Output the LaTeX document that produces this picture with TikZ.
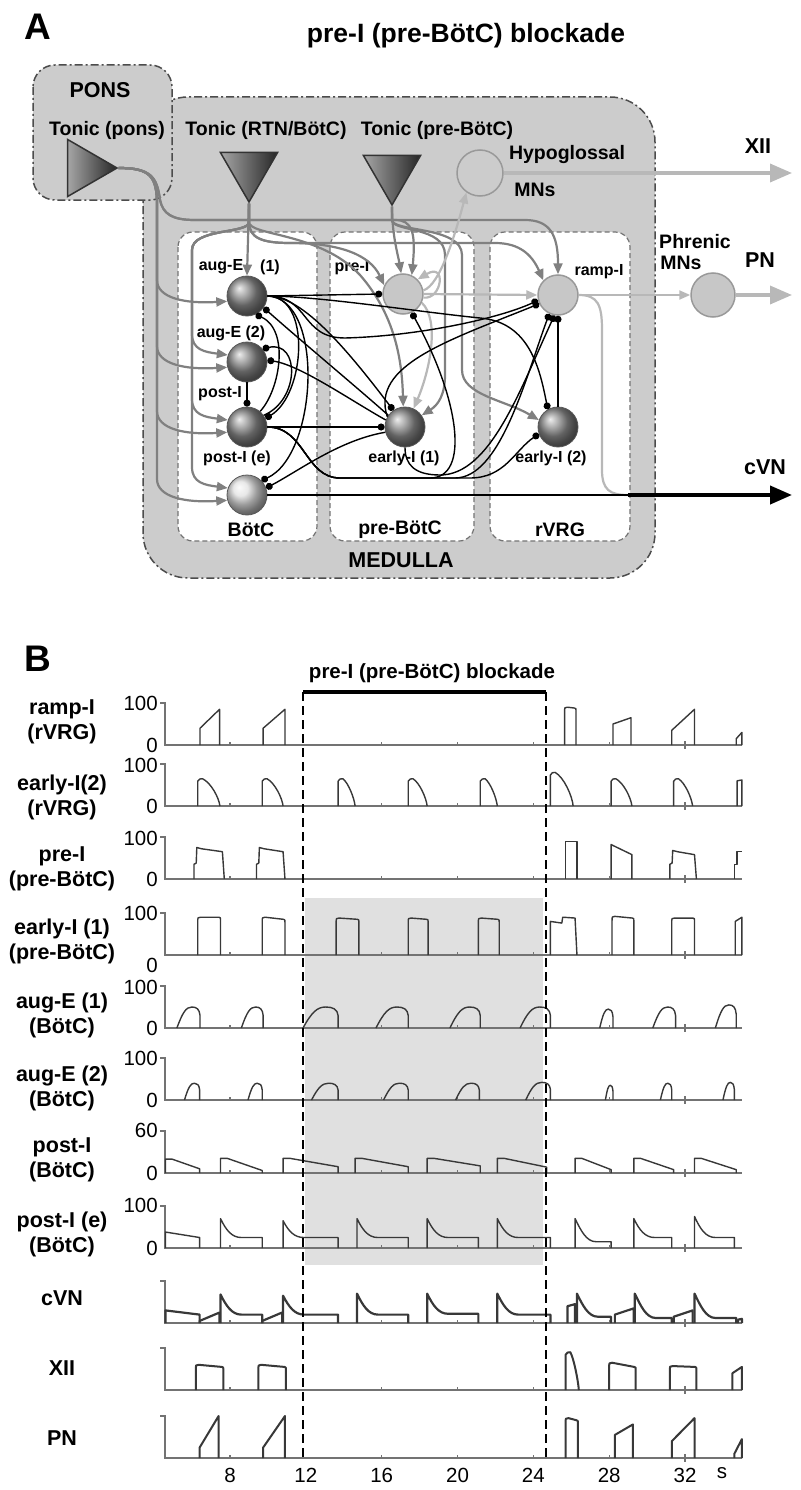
\documentclass[tikz,border=0pt]{standalone}
\usepackage{fontspec}
\setmainfont{Liberation Sans}
\usetikzlibrary{arrows.meta,shapes.geometric,positioning}

\tikzset{neuron/.style = {circle,draw=black!65,line width=0.8pt,shading=ball,ball color=black!45,minimum size=40pt,inner sep=0pt}}
\tikzset{flatcell/.style = {circle,draw=black!40,fill=black!22,line width=1.5pt,minimum size=40pt,inner sep=0pt}}
\tikzset{tonic/.style = {regular polygon,regular polygon sides=3,minimum size=66pt,inner sep=0pt,draw=black!80,line width=1.5pt,left color=black!35,right color=black!85}}
\tikzset{exc/.style = {draw=black!50,line width=2.2pt,-{Triangle[length=11pt,width=9pt]}}}
\tikzset{excl/.style = {draw=black!28,line width=2.2pt,-{Triangle[length=11pt,width=9pt]}}}
\tikzset{inh/.style = {draw=black,line width=1.4pt,-{Circle[length=7pt]}}}
\tikzset{sig/.style = {draw=black!78,line width=1.4pt,line join=round}}
\tikzset{axln/.style = {draw=black!55,line width=1.2pt}}
\tikzset{tracerow/.style = {shift={(78.3,#1)},xscale=18.96,yscale=-0.42}}

% burst shapes (time in s, height in % of top tick)
\newcommand{\rampb}[4]{\draw[sig] (#1,0) -- (#1,#3) -- (#2,#4) -- (#2,0);}
\newcommand{\decrb}[3]{\draw[sig] (#1,0) -- (#1,{#3-6}) .. controls ({#1+0.05},#3) and ({#1+0.15},#3) .. ({#1+0.25},#3) .. controls ({#1+0.6*(#2-#1)},{#3*0.85}) and ({#2-0.05},{#3*0.3}) .. (#2,0);}
\newcommand{\augb}[3]{\draw[sig] (#1,0) .. controls ({#1+0.25*(#2-#1)},{#3*0.75}) and ({#1+0.4*(#2-#1)},#3) .. ({#1+0.65*(#2-#1)},#3) .. controls ({#1+0.85*(#2-#1)},#3) and ({#2-0.03},{#3*0.9}) .. (#2,{#3*0.6}) -- (#2,0);}
\newcommand{\postb}[4]{\draw[sig] (#1,0) -- (#1,#3) -- ({#1+0.35},#3) -- (#2,#4) -- (#2,0);}
\newcommand{\posteb}[4]{\draw[sig] (#1,0) -- (#1,#3) .. controls ({#1+0.3},{#3*0.6}) and ({#1+0.6},#4) .. ({#1+1.1},#4) -- (#2,#4) -- (#2,0);}
\newcommand{\plateb}[4]{\draw[sig] (#1,0) -- (#1,{#3-12}) .. controls (#1,#3) .. ({#1+0.15},#3) -- ({#2-0.08},#4) .. controls (#2,#4) .. (#2,{#4-12}) -- (#2,0);}
\newcommand{\preb}[3]{\draw[sig] (#1,0) -- (#1,35) -- ({#1+0.12},38) -- ({#1+0.15},#3) -- ({#1+0.4},{#3-3}) -- ({#2-0.1},{#3-10}) -- (#2,0);}

\begin{document}
\begin{tikzpicture}[x=1pt,y=-1pt]

\tikzset{title/.style = {font=\fontsize{26.5}{30}\selectfont\bfseries}}
\tikzset{big/.style = {font=\fontsize{21.5}{24}\selectfont\bfseries}}
\tikzset{mid/.style = {font=\fontsize{19.5}{22}\selectfont\bfseries}}
\tikzset{small/.style = {font=\fontsize{16}{18}\selectfont\bfseries}}
\tikzset{rowlab/.style = {font=\fontsize{21.5}{25}\selectfont\bfseries,align=center}}
\tikzset{numlab/.style = {font=\fontsize{20.5}{23}\selectfont,anchor=east,inner sep=1pt}}
\tikzset{region/.style = {draw=black!55,fill=white,line width=1.2pt,dash pattern=on 5pt off 3pt,rounded corners=15pt}}

\useasboundingbox (0,0) rectangle (800,1490);

%panel A
\node[font=\fontsize{37}{40}\selectfont\bfseries] (labA) at (38,27) {A};
\node[title] (titleA) at (466,36) {pre-I (pre-BötC) blockade};

\draw[draw=black!70,fill=black!20,line width=1.5pt,dash pattern=on 8pt off 3pt on 2pt off 3pt,rounded corners=45pt] (143,97) rectangle (655,578);
\draw[draw=black!70,fill=black!20,line width=1.5pt,dash pattern=on 8pt off 3pt on 2pt off 3pt,rounded corners=22pt] (33,65) rectangle (172,200);

\draw[region] (178,232) rectangle (317,541);
\draw[region] (330,232) rectangle (474,541);
\draw[region] (490,232) rectangle (630,541);

\node[big] (pons) at (100,90) {PONS};
\node[mid] (lPons) at (107,130) {Tonic (pons)};
\node[mid] (lRTN) at (266,130) {Tonic (RTN/BötC)};
\node[mid] (lPreT) at (437,130) {Tonic (pre-BötC)};
\node[big] (medulla) at (401,560) {MEDULLA};
\node[mid] (rBot) at (251,530) {BötC};
\node[mid] (rPre) at (400,530) {pre-BötC};
\node[mid] (rRvrg) at (560,530) {rVRG};

%vertex
\node[tonic, shape border rotate=-90] (tPons) at (84,168) {};
\node[tonic, shape border rotate=180] (tRTN) at (249,169) {};
\node[tonic, shape border rotate=180] (tPre) at (392,172) {};

\node[neuron] (augA) at (247,296) {};
\node[neuron] (augB) at (247,362) {};
\node[neuron] (post) at (247,427) {};
\node[neuron, ball color=black!12] (poste) at (247,495) {};
\node[flatcell] (pre) at (403,294) {};
\node[neuron] (earlyA) at (405,427) {};
\node[flatcell] (ramp) at (558,295) {};
\node[neuron] (earlyB) at (558,427) {};
\node[flatcell, fill=black!20, minimum size=46pt] (hypo) at (480,173) {};
\node[flatcell, minimum size=44pt] (phren) at (713,295) {};

\coordinate (xiiEnd) at (792,173);
\coordinate (pnEnd) at (792,295);
\coordinate (cvnJoin) at (628,495);
\coordinate (cvnEnd) at (792,495);

\node[small] (lAugA) at (221,267) {aug-E};
\node[small] (lAugA1) at (270,267) {(1)};
\node[small] (lAugB) at (231,333) {aug-E (2)};
\node[small] (lPost) at (220,394) {post-I};
\node[small] (lPoste) at (237,458) {post-I (e)};
\node[small] (lPre) at (352,268) {pre-I};
\node[small] (lRamp) at (599,272) {ramp-I};
\node[small] (lEarlyA) at (404,458) {early-I (1)};
\node[small] (lEarlyB) at (551,458) {early-I (2)};
\node[mid] (lHypo) at (567,155) {Hypoglossal};
\node[mid] (lHypoMN) at (535,190) {MNs};
\node[mid] (lPhren) at (695,242) {Phrenic};
\node[mid] (lPhrenMN) at (681,263) {MNs};
\node[big] (lXII) at (758,146) {XII};
\node[big] (lPN) at (760,260) {PN};
\node[big] (lCVN) at (765,467) {cVN};

%excitatory edge
\foreach \n/\y in {augA/296,augB/362,post/427,poste/495}
  \draw[exc] (tPons.0) .. controls (150,168) and (157,176) .. (157,205) -- (157,{\y-16}) .. controls (157,{\y+2}) and (185,{\y+8}) .. (\n.195);
\draw[exc] (tPons.0) .. controls (150,168) and (157,176) .. (160,200) .. controls (163,214) and (172,220) .. (195,220) -- (525,220) .. controls (550,220) and (558,235) .. (ramp.north);
\draw[exc] (tPons.0) .. controls (150,168) and (157,176) .. (160,200) .. controls (163,214) and (172,220) .. (195,220) -- (395,220) .. controls (412,220) and (416,232) .. (pre.65);

\draw[exc] (tRTN.-90) -- (augA.north);
\foreach \n/\y in {augB/362,post/427,poste/495}
  \draw[exc] (tRTN.-90) -- (249,222) .. controls (249,234) and (192,228) .. (192,250) -- (192,{\y-28}) .. controls (192,{\y-12}) and (205,{\y-10}) .. (\n.160);
\draw[exc] (tRTN.-90) -- (249,222) .. controls (249,238) and (262,243) .. (290,243) -- (495,243) .. controls (520,243) and (532,255) .. (ramp.135);
\draw[exc] (tRTN.-90) -- (249,222) .. controls (249,238) and (262,243) .. (290,243) .. controls (340,243) and (370,255) .. (pre.155);
\draw[exc] (tRTN.-90) -- (249,222) .. controls (249,236) and (320,232) .. (360,275) .. controls (395,315) and (402,360) .. (earlyA.95);

\draw[exc] (tPre.-90) .. controls (392,235) and (398,255) .. (pre.95);
\draw[exc] (tPre.-90) -- (392,220) .. controls (392,232) and (445,226) .. (445,255) -- (445,375) .. controls (445,395) and (438,405) .. (earlyA.35);
\draw[exc] (tPre.-90) -- (392,220) .. controls (392,232) and (462,226) .. (462,255) -- (462,370) .. controls (462,395) and (505,400) .. (earlyB.160);

\draw[excl] (pre.east) -- (ramp.west);
\draw[excl] (pre.10) .. controls (440,285) and (455,235) .. (hypo.235);
\draw[excl] (pre.350) .. controls (442,300) and (447,262) .. (pre.45);
\draw[excl] (pre.335) .. controls (440,320) and (430,370) .. (earlyA.65);
\draw[excl] (ramp.east) -- (phren.west);
\draw[excl, -] (ramp.east) .. controls (598,295) and (602,305) .. (602,330) -- (602,470) .. controls (602,490) and (610,495) .. (cvnJoin);
\draw[excl, line width=3.5pt, -{Triangle[length=22pt,width=18pt]}] (hypo.east) -- (xiiEnd);
\draw[excl, line width=3.5pt, -{Triangle[length=22pt,width=18pt]}] (phren.east) -- (pnEnd);

%inhibitory edge
\draw[inh] (augA.east) -- (pre.west);
\draw[inh] (augA.east) .. controls (300,296) and (340,340) .. (earlyA.125);
\draw[inh] (augA.east) .. controls (312,296) and (305,395) .. (post.25);
\draw[inh] (augA.east) .. controls (325,298) and (318,455) .. (poste.45);
\draw[inh] (augA.east) .. controls (310,296) and (300,338) .. (345,338) .. controls (420,336) and (500,318) .. (ramp.195);
\draw[inh] (augA.east) .. controls (318,296) and (420,312) .. (480,318) .. controls (530,322) and (540,370) .. (earlyB.120);
\draw[inh] (earlyA.145) .. controls (360,390) and (300,340) .. (augA.325);
\draw[inh] (earlyA.160) .. controls (350,400) and (300,365) .. (augB.5);
\draw[inh] (earlyA.195) .. controls (340,440) and (300,470) .. (poste.20);
\draw[inh] (earlyA.150) .. controls (370,365) and (450,340) .. (ramp.205);
\draw[inh] (earlyA.south) .. controls (405,465) and (415,475) .. (440,475) .. controls (490,475) and (520,390) .. (ramp.260);
\draw[inh] (post.50) .. controls (280,390) and (290,330) .. (augA.295);
\draw[inh] (augB.south) -- (post.north);
\draw[inh] (post.35) .. controls (300,400) and (300,340) .. (augB.40);
\draw[inh] (post.east) -- (earlyA.west);
\draw[inh] (post.east) .. controls (305,427) and (305,478) .. (340,478) -- (430,478) .. controls (470,478) and (460,400) .. (pre.295);
\draw[inh] (post.east) .. controls (305,427) and (305,478) .. (340,478) -- (470,478) .. controls (505,478) and (515,450) .. (earlyB.200);
\draw[inh] (post.east) .. controls (305,427) and (305,478) .. (340,478) -- (455,478) .. controls (500,478) and (525,380) .. (ramp.245);
\draw[inh] (earlyB.north) -- (ramp.south);

\draw[black, line width=1.4pt] (poste.east) -- (cvnJoin);
\draw[black, line width=4pt, -{Triangle[length=22pt,width=18pt]}] (cvnJoin) -- (cvnEnd);

%panel B
\node[font=\fontsize{37}{40}\selectfont\bfseries] (labB) at (38,659) {B};
\node[font=\fontsize{20.5}{24}\selectfont\bfseries] (titleB) at (432,673) {pre-I (pre-BötC) blockade};

\fill[black!12] (305,898) rectangle (543,1265);

\node[rowlab] (labRamp) at (62,722) {ramp-I\\(rVRG)};
\node[rowlab] (labEarlyB) at (62,797) {early-I(2)\\(rVRG)};
\node[rowlab] (labPre) at (62,869) {pre-I\\(pre-BötC)};
\node[rowlab] (labEarlyA) at (62,941) {early-I (1)\\(pre-BötC)};
\node[rowlab] (labAugA) at (62,1015) {aug-E (1)\\(BötC)};
\node[rowlab] (labAugB) at (62,1088) {aug-E (2)\\(BötC)};
\node[rowlab] (labPost) at (62,1160) {post-I\\(BötC)};
\node[rowlab] (labPoste) at (62,1234) {post-I (e)\\(BötC)};
\node[rowlab] (labCvn) at (62,1298) {cVN};
\node[rowlab] (labXii) at (62,1368) {XII};
\node[rowlab] (labPn) at (62,1438) {PN};

\foreach \y/\v [count=\k] in {703/100,765/100,838/100,913/100,987/100,1058/100,1130/60,1205/100}
  \node[numlab] (ytop\k) at (159,\y) {\v};
\foreach \y [count=\k] in {745,806,879,965,1028,1100,1173,1248}
  \node[numlab] (yzero\k) at (159,\y) {0};

%axes
\foreach \yb in {745,806,879,955,1028,1100,1173,1248,1323,1390,1458} {
  \begin{scope}[tracerow=\yb]
    \draw[axln] (4.33,100) -- (4.57,100) -- (4.57,0) -- (35,0);
    \foreach \t in {8,16,20,24,28} \draw[axln] (\t,0) -- (\t,6);
    \draw[axln] (32,-9) -- (32,9);
  \end{scope}
}

%traces
\begin{scope}[tracerow=745]
  \foreach \a/\b/\c/\d in {6.42/7.45/40/85, 9.75/10.9/40/85, 28.2/29.15/50/65, 31.3/32.5/35/85, 34.7/35/15/30} \rampb{\a}{\b}{\c}{\d};
  \plateb{25.65}{26.25}{90}{88};
\end{scope}
\begin{scope}[tracerow=806]
  \foreach \a/\b/\c in {6.3/7.47/65, 9.7/10.8/65, 13.7/14.6/65, 17.4/18.4/65, 21.2/22.1/65, 24.9/26.1/80, 28.1/29.2/65, 31.4/32.4/65} \decrb{\a}{\b}{\c};
  \rampb{34.75}{35}{60}{62};
\end{scope}
\begin{scope}[tracerow=879]
  \foreach \a/\b/\c in {6.1/7.7/75, 9.4/10.9/75, 31.2/32.6/68} \preb{\a}{\b}{\c};
  \rampb{25.7}{26.3}{90}{90};
  \rampb{28.1}{29.2}{82}{58};
  \draw[sig] (34.6,0) -- (34.6,35) -- (34.75,35) -- (34.75,65) -- (35,65);
\end{scope}
\begin{scope}[tracerow=955]
  \foreach \a/\b/\c/\d in {6.3/7.5/90/90, 9.7/10.9/90/85, 13.6/14.8/88/85, 17.4/18.45/88/85, 21.1/22.2/88/85, 28.15/29.3/92/88, 31.3/32.5/88/88} \plateb{\a}{\b}{\c}{\d};
  \draw[sig] (24.9,0) -- (24.9,80) -- (25.5,76) -- (25.55,90) -- (26.2,88) -- (26.3,0);
  \rampb{34.65}{35}{80}{90};
\end{scope}
\begin{scope}[tracerow=1028]
  \foreach \a/\b/\c in {5.2/6.42/50, 8.6/9.75/50, 11.85/13.7/50, 15.7/17.4/50, 19.6/21.2/50, 23.3/24.9/50, 27.5/28.2/45, 30.3/31.5/50, 33.6/34.7/55} \augb{\a}{\b}{\c};
\end{scope}
\begin{scope}[tracerow=1100]
  \foreach \a/\b/\c in {5.6/6.4/40, 8.95/9.7/40, 12.3/13.7/40, 16.1/17.4/40, 19.9/21.15/40, 23.6/24.9/42, 27.8/28.2/35, 30.7/31.3/40, 34.0/34.6/42} \augb{\a}{\b}{\c};
\end{scope}
\begin{scope}[tracerow=1173]
  \foreach \a/\b/\c/\d in {4.6/6.4/33/10, 7.5/9.7/35/6, 10.8/13.7/35/15, 14.6/17.4/35/15, 18.4/21.2/35/17, 22.1/24.7/35/14, 26.2/28.1/35/8, 29.3/31.4/35/8, 32.5/34.7/35/8} \postb{\a}{\b}{\c}{\d};
\end{scope}
\begin{scope}[tracerow=1248]
  \foreach \a/\b/\c/\d in {7.5/9.7/70/25, 10.8/13.7/65/25, 14.7/17.4/70/25, 18.4/21.1/70/25, 22.1/24.9/70/25, 26.2/28.1/70/15, 29.3/31.3/70/25, 32.5/34.6/75/25} \posteb{\a}{\b}{\c}{\d};
  \rampb{4.6}{6.4}{38}{25};
\end{scope}
\begin{scope}[tracerow=1323, sig/.append style={line width=2.2pt}]
  \foreach \a/\b/\c/\d in {6.4/7.45/5/25, 9.7/10.75/5/25, 25.8/26.2/40/45, 28.3/29.3/20/35, 31.4/32.4/15/30} \rampb{\a}{\b}{\c}{\d};
  \foreach \a/\b/\c/\d in {7.5/9.7/68/20, 10.8/13.7/65/20, 14.7/17.4/70/20, 18.4/21.1/70/22, 22.1/24.9/70/20, 26.3/28.1/70/15, 29.35/31.3/70/12, 32.5/34.7/70/12} \posteb{\a}{\b}{\c}{\d};
  \rampb{4.6}{6.4}{30}{20};
  \rampb{34.8}{35}{8}{10};
\end{scope}
\begin{scope}[tracerow=1390, sig/.append style={line width=2pt}]
  \foreach \a/\b/\c/\d in {6.2/7.65/60/55, 9.5/10.95/60/55, 28.0/29.4/65/55, 31.2/32.6/57/55} \plateb{\a}{\b}{\c}{\d};
  \decrb{25.7}{26.4}{90};
  \rampb{34.5}{35}{40}{55};
\end{scope}
\begin{scope}[tracerow=1458, sig/.append style={line width=2pt}]
  \foreach \a/\b/\c/\d in {6.4/7.4/25/100, 9.75/10.9/25/100, 28.3/29.25/55/80, 31.3/32.5/40/95, 34.6/35/10/45} \rampb{\a}{\b}{\c}{\d};
  \plateb{25.7}{26.35}{95}{90};
\end{scope}

\foreach \t in {8,12,...,32}
  \node[numlab, anchor=center] (tick\t) at ({78.3+18.96*\t},1475) {\t};
\node[numlab, anchor=center] (unitS) at (722,1473) {s};

%blockade
\coordinate (blkL) at (303,692);
\coordinate (blkR) at (546,692);
\coordinate (blkLb) at (303,1460);
\coordinate (blkRb) at (546,1460);
\draw[black, line width=4pt] (blkL) -- (blkR);
\draw[black, line width=2.2pt, dash pattern=on 9pt off 5pt] (blkL) -- (blkLb);
\draw[black, line width=2.2pt, dash pattern=on 9pt off 5pt] (blkR) -- (blkRb);

\end{tikzpicture}
\end{document}
